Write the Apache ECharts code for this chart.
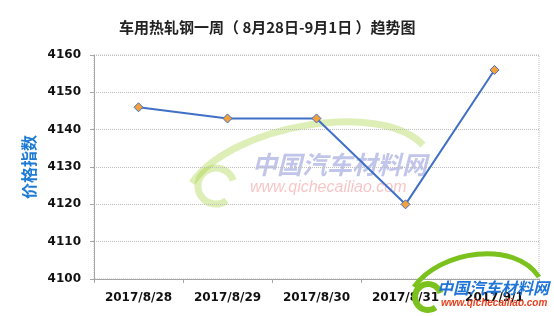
<!DOCTYPE html>
<html><head><meta charset="utf-8">
<script src="https://cdn.jsdelivr.net/npm/echarts@6/dist/echarts.min.js"></script>
<style>html,body{margin:0;padding:0;background:#fff}#c{width:554px;height:316px}</style>
</head><body><div id="c"></div>
<script>
const categories = ['2017/8/28','2017/8/29','2017/8/30','2017/8/31','2017/9/1'];
const values = [4146, 4143, 4143, 4120, 4156];
const titleText = '车用热轧钢一周（ 8月28日-9月1日 ）趋势图';
const yName = '价格指数';

const chart = echarts.init(document.getElementById('c'));
const fadedGreen = 'rgba(160,205,50,0.35)';
chart.setOption({
  animation: false,
  title: {text: titleText, left: 114, top: 15,
    textStyle: {fontFamily: 'Noto Sans CJK SC', fontSize: 15, fontWeight: 'bold', color: '#222'}},
  grid: {left: 94, right: 15, top: 55, bottom: 37, show: true, borderColor: '#bdbdbd', borderWidth: 1, borderType: 'dotted'},
  xAxis: {type: 'category', data: categories, boundaryGap: true,
    axisLine: {lineStyle: {color: '#a6a6a6'}},
    axisTick: {show: true, lineStyle: {color: '#a6a6a6'}, length: 4},
    axisLabel: {color: '#111', fontWeight: 'bold', fontSize: 12, fontFamily: 'DejaVu Sans', margin: 13}},
  yAxis: {type: 'value', min: 4100, max: 4160, interval: 10,
    name: yName, nameLocation: 'middle', nameGap: 53, nameRotate: 90,
    nameTextStyle: {color: '#1e7bd4', fontWeight: 'bold', fontSize: 16, fontFamily: 'Noto Sans CJK SC'},
    axisLine: {show: true, lineStyle: {color: '#a6a6a6'}},
    axisTick: {show: true, length: 4, lineStyle: {color: '#a6a6a6'}},
    splitLine: {lineStyle: {color: '#bdbdbd', type: 'dotted'}},
    axisLabel: {color: '#111', fontWeight: 'bold', fontSize: 12, fontFamily: 'DejaVu Sans', margin: 13,
      formatter: v => String(v)}},
  graphic: [
    {type: 'bezierCurve', z: 0, shape: {x1: 192, y1: 183, cpx1: 232, cpy1: 125, cpx2: 380, cpy2: 100, x2: 423, y2: 145},
      style: {stroke: fadedGreen, lineWidth: 7, fill: null}},
    {type: 'arc', z: 0, shape: {cx: 216, cy: 186, r: 18, startAngle: Math.PI * 0.3, endAngle: Math.PI * 1.9},
      style: {stroke: fadedGreen, lineWidth: 7, fill: null}},
    {type: 'text', left: 252, top: 152, z: 0, style: {text: '中国汽车材料网', fill: 'rgba(100,110,200,0.4)', font: 'italic bold 25px "Noto Sans CJK SC"'}},
    {type: 'text', left: 250, top: 180, z: 0, style: {text: 'www.qichecailiao.com', fill: 'rgba(235,110,110,0.4)', font: 'italic 16px "Liberation Sans"'}},
    {type: 'bezierCurve', z: 10, shape: {x1: 414, y1: 287, cpx1: 440, cpy1: 250, cpx2: 515, cpy2: 240, x2: 539, y2: 277},
      style: {stroke: '#7cc21e', lineWidth: 5, fill: null}},
    {type: 'arc', z: 10, shape: {cx: 428, cy: 297, r: 13, startAngle: Math.PI * 0.3, endAngle: Math.PI * 1.9},
      style: {stroke: '#7cc21e', lineWidth: 6, fill: null}},
    {type: 'text', left: 437, top: 280, z: 11, style: {text: '中国汽车材料网', fill: '#1f74d8', font: 'italic bold 16px "Noto Sans CJK SC"'}},
    {type: 'text', left: 441, top: 298, z: 11, style: {text: 'www.qichecailiao.com', fill: '#e8401f', font: 'italic bold 10px "Liberation Sans"'}}
  ],
  series: [{type: 'line', data: values, symbol: 'diamond', symbolSize: 9,
    lineStyle: {color: '#3f6fc6', width: 2},
    itemStyle: {color: '#f5a139', borderColor: '#3f6fc6', borderWidth: 1}}]
});
</script></body></html>
